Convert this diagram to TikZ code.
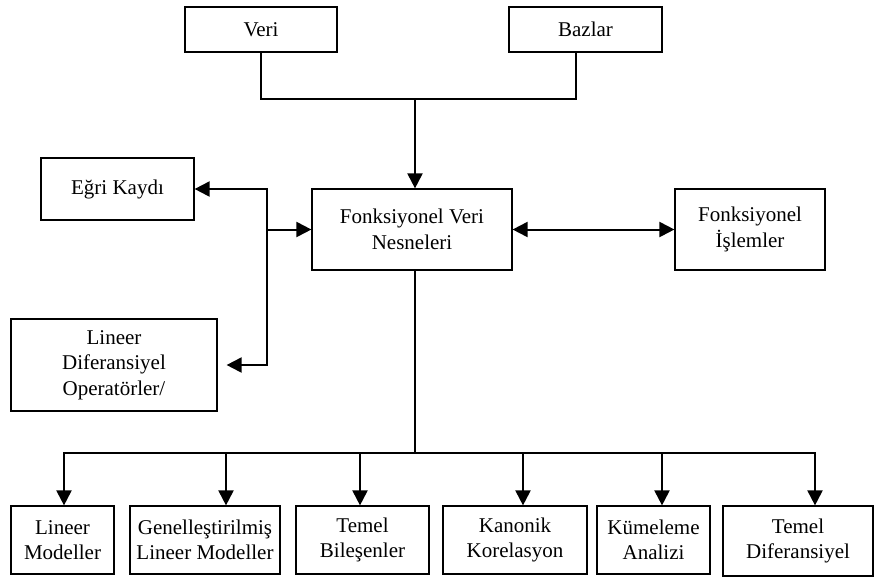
\documentclass[tikz,border=0pt]{standalone}
\usepackage{fontspec}
\setmainfont{Liberation Serif}
\usetikzlibrary{arrows.meta, positioning}

\begin{document}
\begin{tikzpicture}[x=1pt, y=-1pt,
    box/.style={rectangle, draw=black, line width=1.2pt, fill=white,
                inner sep=2pt, align=center,
                font=\fontsize{21}{25.5}\selectfont},
    link/.style={line width=2pt, black, line cap=rect},
    arr/.style={link, -{Triangle[length=15pt, width=15pt]}},
    dblarr/.style={link, {Triangle[length=15pt, width=15pt]}-{Triangle[length=15pt, width=15pt]}},
]
\useasboundingbox (0,0) rectangle (874,579);

%% ── Inputs ──────────────────────────────────────────────────────────────────
\node[box, minimum width=152pt, minimum height=45pt] (veri)   at (261,29.5)   {Veri};
\node[box, minimum width=153pt, minimum height=45pt] (bazlar) at (585.5,29.5) {Bazlar};

%% ── Middle row ──────────────────────────────────────────────────────────────
\node[box, minimum width=200pt, minimum height=81pt] (fvn)    at (412,229.5)  {Fonksiyonel Veri\\Nesneleri};
\node[box, minimum width=150pt, minimum height=81pt] (fis)    at (750,229.5)  {Fonksiyonel\\İşlemler};
\node[box, minimum width=153pt, minimum height=62pt] (egri)   at (117.5,189)  {Eğri Kaydı};
\node[box, minimum width=206pt, minimum height=92pt] (lineer) at (114,365)    {Lineer\\Diferansiyel\\Operatörler/};

%% ── Analyses ────────────────────────────────────────────────────────────────
\node[box, minimum width=103pt, minimum height=68pt] (lm)  at (62.5,540)  {Lineer\\Modeller};
\node[box, minimum width=150pt, minimum height=68pt] (glm) at (205,540)   {Genelleştirilmiş\\Lineer Modeller};
\node[box, minimum width=133pt, minimum height=68pt] (tb)  at (362.5,540) {Temel\\Bileşenler};
\node[box, minimum width=144pt, minimum height=68pt] (kk)  at (515,540)   {Kanonik\\Korelasyon};
\node[box, minimum width=113pt, minimum height=68pt] (ka)  at (653.5,540) {Kümeleme\\Analizi};
\node[box, minimum width=150pt, minimum height=70pt] (td)  at (798,541)   {Temel\\Diferansiyel};

%% ── Connectors ──────────────────────────────────────────────────────────────
% Veri + Bazlar -> Fonksiyonel Veri Nesneleri
\coordinate (mrg) at (415,99);
\draw[link] (veri.south) |- (mrg);
\draw[link] ([xshift=-9.5pt]bazlar.south) |- (mrg);
\draw[arr] (mrg) -- (mrg |- fvn.north);

% left branch
\coordinate (sp) at (267,0);
\draw[arr] (lineer.east -| sp) -- (egri.east -| sp) -- (egri.east);
\draw[arr, shorten >=9pt] (lineer.east -| sp) -- (lineer.east);
\draw[arr] (fvn.west -| sp) -- (fvn.west);

% Fonksiyonel Veri Nesneleri <-> Fonksiyonel Islemler
\draw[dblarr] (fvn.east) -- (fis.west);

% bus to the analyses
\coordinate (bus) at (415,453);
\draw[link] (bus |- fvn.south) -- (bus);
\foreach \x/\n in {64/lm, 226/glm, 360/tb, 523/kk, 662/ka, 815/td} {
  \coordinate (b-\n) at (\x,453);
  \draw[arr] (b-\n) -- (b-\n |- \n.north);
}
\draw[link] (b-lm) -- (b-td);

\end{tikzpicture}
\end{document}
